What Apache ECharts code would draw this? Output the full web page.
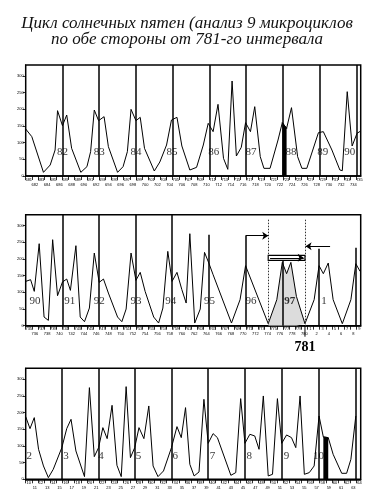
<!DOCTYPE html>
<html><head><meta charset="utf-8">
<script src="https://cdn.jsdelivr.net/npm/echarts@6/dist/echarts.min.js"></script>
<style>html,body{margin:0;padding:0;background:#fff}#c{width:374px;height:500px}</style>
</head><body><div id="c"></div>
<script>
const titleLines = ['Цикл солнечных пятен (анализ 9 микроциклов', 'по обе стороны от 781-го интервала'];
const yTicks = [0, 50, 100, 150, 200, 250, 300];

// Panel 1 (intervals 81–90)
const p1x = [0,1.0,2.9,4.0,4.8,5.2,6.0,6.7,7.5,9.0,10.0,10.6,11.2,11.9,12.8,13.5,15.0,15.9,16.6,17.2,18.0,18.7,19.4,21.0,21.9,23.0,23.8,24.7,25.5,26.8,27.9,29.0,29.8,30.6,31.4,32.3,33.0,33.7,34.4,35.2,35.9,36.7,37.4,38.3,38.9,39.9,41.2,41.9,42.6,43.4,44.4,45.1,45.9,47.8,48.6,50.0,51.3,51.7,52.5,53.3,54.1,54.7];
const p1y = [141,118,11,33,78,196,151,183,83,11,28,73,198,166,178,88,11,28,73,200,166,176,83,15,42,93,168,176,90,18,26,93,158,133,215,53,20,285,60,86,160,133,208,58,23,23,108,160,143,205,58,23,23,130,133,78,18,16,253,90,128,135];
const p1Ticks = [681,682,683,684,685,686,687,688,689,690,691,692,693,694,695,696,697,698,699,700,701,702,703,704,705,706,707,708,709,710,711,712,713,714,715,716,717,718,719,720,721,722,723,724,725,726,727,728,729,730,731,732,733,734,735];
const p1Cycles = [6,12,18,24,30,36,42,48,54];
const p1CycleTops = [333,333,333,333,333,333,333,333,333];
const p1Names = ['82','83','84','85','86','87','88','89','90'];
const p1NameX = [6.0,12.0,18.0,23.9,30.7,36.8,43.3,48.5,52.9];
const p1NameY = [73,73,73,73,73,73,73,73,73];
const p1Black = [41.9, 42.6];

// Panel 2 (intervals 90–1, around 781)
const p2x = [0,0.8,1.4,2.2,3.0,3.7,4.4,5.2,6.0,6.7,7.3,8.2,8.9,9.6,10.4,11.2,12.0,12.7,13.5,15.0,15.7,16.4,17.2,18.0,18.7,19.5,20.9,21.7,22.4,23.2,23.9,24.7,25.5,26.2,26.8,27.6,28.5,29.2,29.9,30.6,33.6,35.0,35.9,39.6,41.0,41.9,42.6,43.3,44.2,45.6,47.1,47.9,48.6,49.4,50.2,51.7,53.1,53.9,54.6];
const p2y = [133,138,103,246,26,16,258,90,131,140,106,240,26,12,53,218,130,140,98,26,12,50,218,136,160,103,26,8,53,223,133,160,108,68,276,8,50,220,188,153,8,78,180,6,78,190,156,190,88,6,78,180,156,188,78,6,78,186,163];
const p2Ticks = [735,736,737,738,739,740,741,742,743,744,745,746,747,748,749,750,751,752,753,754,755,756,757,758,759,760,761,762,763,764,765,766,767,768,769,770,771,772,773,774,775,776,777,778,779,780,1,2,3,4,5,6,7,8,9];
const p2Cycles = [6,12,18,23.9,29.9,35.9,41.9,47.9,53.9];
const p2CycleTops = [333,333,333,333,273,270,196,231,234];
const p2Names = ['90','91','92','93','94','95','96','97','1'];
const p2NameX = [1.5,7.2,12.0,18.0,23.7,30.0,36.8,43.1,48.7];
const p2NameY = [73,73,73,73,73,73,73,73,73];
const p2BoldName = '97';
const p2Shade = [39.6, 45.6];
const p2Dotted = [39.6, 45.6];
const p2DottedTop = 318;
const p2Box = [39.6, 45.6, 196, 211];
const p2ArrowA = [35.9, 39.6, 270];
const p2ArrowB = [49.7, 45.7, 238];
const markerLabel = '781';
const markerX = 45.6;

// Panel 3 (intervals 2–10)
const p3x = [0,0.7,1.4,2.1,2.9,3.7,4.5,5.9,6.7,7.4,8.2,9.6,10.4,11.2,11.9,12.6,13.3,14.1,14.9,15.6,16.4,17.1,17.8,18.5,19.3,20.1,20.8,21.6,22.5,23.8,24.7,25.4,26.1,26.8,27.5,28.3,29.1,29.8,30.6,31.3,33.5,34.3,35.1,35.8,36.6,37.4,38.1,38.8,39.6,40.3,41.1,41.8,42.6,43.4,44.1,44.8,45.5,46.3,47.1,47.9,48.6,49.4,50.2,51.6,52.4,53.1,53.9];
const p3y = [188,152,185,90,40,5,30,95,152,180,85,8,275,68,95,155,122,222,42,8,278,65,95,155,122,220,40,8,25,95,158,125,215,45,10,22,240,108,137,125,12,20,242,108,135,130,90,250,10,15,242,108,133,125,95,250,15,20,40,190,127,125,75,18,18,60,190];
const p3Ticks = [10,11,12,13,14,15,16,17,18,19,20,21,22,23,24,25,26,27,28,29,30,31,32,33,34,35,36,37,38,39,40,41,42,43,44,45,46,47,48,49,50,51,52,53,54,55,56,57,58,59,60,61,62,63,64];
const p3Cycles = [5.9,11.9,17.8,23.8,29.8,35.8,41.8,47.8,53.9];
const p3CycleTops = [333,333,333,333,333,333,333,333,333];
const p3Names = ['2','3','4','5','6','7','8','9','10'];
const p3NameX = [0.6,6.6,12.3,18.4,24.4,30.5,36.5,42.6,47.8];
const p3NameY = [70,70,70,70,70,70,70,70,70];
const p3Black = [48.6, 49.4];

const Y_MAX = 333, X_MAX = 54.7;
const grids = [], xAxes = [], yAxes = [], series = [];

function pts(xs, ys) { return xs.map((x, k) => [x, ys[k]]); }
function between(xs, ys, r) { return pts(xs, ys).filter(p => p[0] >= r[0] - 1e-6 && p[0] <= r[1] + 1e-6); }

function panel(i, top, xs, ys, ticks, cycles, tops, names, nx, ny, opts) {
  grids.push({left: 25.7, right: 13.3, top: top, height: 111, show: true, borderColor: '#000', borderWidth: 1.5, backgroundColor: 'transparent'});
  const tickPos = ticks.map((t, k) => k);
  const evenPos = [], oddPos = [];
  ticks.forEach((t, k) => (k % 2 ? oddPos : evenPos).push(k + 0.5));
  const lab = v => String(ticks[Math.floor(v)]);
  xAxes.push({gridIndex: i, type: 'value', min: 0, max: X_MAX, position: 'bottom',
    axisLine: {show: true, onZero: false, lineStyle: {color: '#000', width: 1.5}},
    splitLine: {show: false},
    axisTick: {show: true, length: 4, customValues: tickPos, lineStyle: {color: '#000', width: 0.8}},
    axisLabel: {customValues: evenPos, fontSize: 4, margin: 1.5, color: '#000', fontFamily: 'Liberation Sans', formatter: lab}
  });
  xAxes.push({gridIndex: i, type: 'value', min: 0, max: X_MAX, position: 'bottom', offset: 0,
    axisLine: {show: false, onZero: false}, splitLine: {show: false}, axisTick: {show: false},
    axisLabel: {customValues: oddPos, fontSize: 4, margin: 6.5, color: '#000', fontFamily: 'Liberation Sans', formatter: lab}
  });
  const xi = 2 * i;
  yAxes.push({gridIndex: i, type: 'value', min: 0, max: Y_MAX,
    axisLine: {show: true, lineStyle: {color: '#000', width: 1}},
    splitLine: {show: false},
    axisTick: {show: true, length: 3, customValues: yTicks, lineStyle: {color: '#000', width: 0.8}},
    axisLabel: {customValues: yTicks, fontSize: 4, margin: 2, color: '#000', fontFamily: 'Liberation Sans'}
  });
  if (opts.shade) {
    series.push({type: 'line', xAxisIndex: xi, yAxisIndex: i, data: between(xs, ys, opts.shade), symbol: 'none',
      lineStyle: {width: 0}, areaStyle: {color: '#dcdcdc', opacity: 1}, silent: true, z: 1});
  }
  const mlData = cycles.map((x, k) => [{coord: [x, tops[k]]}, {coord: [x, 0]}]);
  let markArea;
  if (opts.extra) {
    const e = opts.extra;
    e.dotted.forEach(x => mlData.push([{coord: [x, e.dottedTop], lineStyle: {type: [1.5, 1.5], width: 1, color: '#333'}}, {coord: [x, 0]}]));
    mlData.push([{coord: [e.arrowA[0], e.arrowA[2]], symbol: 'none', lineStyle: {width: 1}}, {coord: [e.arrowA[1], e.arrowA[2]], symbol: 'arrow'}]);
    mlData.push([{coord: [e.arrowB[0], e.arrowB[2]], symbol: 'none', lineStyle: {width: 1}}, {coord: [e.arrowB[1], e.arrowB[2]], symbol: 'arrow'}]);
    const b = e.box;
    mlData.push([{coord: [b[0] + 0.3, (b[2] + b[3]) / 2], symbol: 'none', lineStyle: {width: 1}}, {coord: [b[1] - 0.2, (b[2] + b[3]) / 2], symbol: 'arrow'}]);
    markArea = {silent: true, itemStyle: {color: '#fff', borderColor: '#000', borderWidth: 1.2},
      data: [[{coord: [b[0], b[2]]}, {coord: [b[1], b[3]]}]]};
  }
  series.push({type: 'line', xAxisIndex: xi, yAxisIndex: i, data: pts(xs, ys), symbol: 'none', z: 3,
    lineStyle: {color: '#000', width: 1}, silent: true,
    markLine: {silent: true, symbol: 'none', symbolSize: 6, animation: false, label: {show: false},
      lineStyle: {color: '#000', width: 1.5, type: 'solid'}, data: mlData},
    markArea: markArea
  });
  if (opts.black) {
    series.push({type: 'line', xAxisIndex: xi, yAxisIndex: i, data: between(xs, ys, opts.black), symbol: 'none',
      lineStyle: {width: 1, color: '#000'}, areaStyle: {color: '#000', opacity: 1}, silent: true, z: 4});
  }
  series.push({type: 'scatter', xAxisIndex: xi, yAxisIndex: i, symbol: 'circle', symbolSize: 1, silent: true, z: 5,
    itemStyle: {color: 'rgba(0,0,0,0)'},
    data: nx.map((x, k) => ({value: [x, ny[k]], name: names[k],
      label: names[k] === opts.boldName ? {fontWeight: 'bold'} : undefined})),
    label: {show: true, position: 'inside', formatter: '{b}', fontFamily: 'Liberation Serif', fontSize: 11, color: '#000'}
  });
}

panel(0, 65, p1x, p1y, p1Ticks, p1Cycles, p1CycleTops, p1Names, p1NameX, p1NameY, {black: p1Black});
panel(1, 214.7, p2x, p2y, p2Ticks, p2Cycles, p2CycleTops, p2Names, p2NameX, p2NameY,
  {shade: p2Shade, boldName: p2BoldName, extra: {dotted: p2Dotted, dottedTop: p2DottedTop, arrowA: p2ArrowA, arrowB: p2ArrowB, box: p2Box}});
panel(2, 368.3, p3x, p3y, p3Ticks, p3Cycles, p3CycleTops, p3Names, p3NameX, p3NameY, {black: p3Black});

const chart = echarts.init(document.getElementById('c'), null, {renderer: 'canvas'});
chart.setOption({
  animation: false,
  backgroundColor: '#fff',
  title: {text: titleLines.join('\n'), left: 'center', top: 11,
    textStyle: {fontFamily: 'Liberation Serif', fontStyle: 'italic', fontWeight: 'normal', fontSize: 17, lineHeight: 16, color: '#111'}},
  grid: grids, xAxis: xAxes, yAxis: yAxes, series: series
});
const p = chart.convertToPixel({gridIndex: 1}, [markerX, 0]);
chart.setOption({graphic: [
  {type: 'line', shape: {x1: p[0], y1: p[1], x2: p[0], y2: p[1] + 11}, style: {stroke: '#000', lineWidth: 1}},
  {type: 'text', x: p[0], y: p[1] + 22, style: {text: markerLabel, fontFamily: 'Liberation Serif', fontWeight: 'bold', fontSize: 14, fill: '#000', align: 'center', verticalAlign: 'middle'}}
]});
</script></body></html>
